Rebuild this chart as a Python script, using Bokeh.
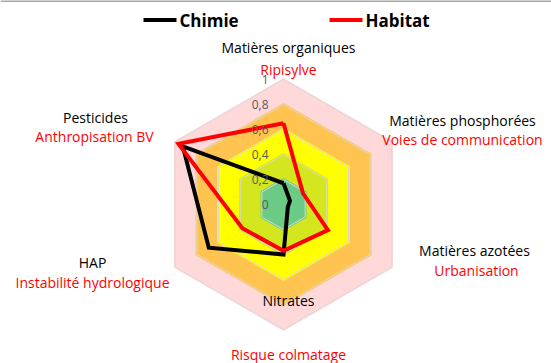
import numpy as np
from bokeh.plotting import figure
from bokeh.models import Range1d
from bokeh.embed import file_html
from bokeh.resources import INLINE
from bokeh.core.properties import value

# ---- data ----
chem_labels = ["Matières organiques", "Matières phosphorées", "Matières azotées",
               "Nitrates", "HAP", "Pesticides"]
hab_labels = ["Ripisylve", "Voies de communication", "Urbanisation",
              "Risque colmatage", "Instabilité hydrologique", "Anthropisation BV"]
chimie = [0.17, 0.06, 0.04, 0.40, 0.69, 0.93]
habitat = [0.65, 0.18, 0.41, 0.37, 0.38, 0.97]
tick_values = [0, 0.2, 0.4, 0.6, 0.8, 1.0]
tick_labels = ["0", "0,2", "0,4", "0,6", "0,8", "1"]
band_levels = [1.0, 0.8, 0.6, 0.4, 0.2]
band_colors = ["#FFD9D9", "#FFC44F", "#FFFF00", "#D4E61E", "#6BCB85"]
series_names = ["Chimie", "Habitat"]
series_colors = ["black", "#FF0000"]

# ---- geometry ----
W, H = 551, 363
CX, CY, R = 283, 204, 125.0   # image px of centre, px per unit


def px(xi, yi):
    return (xi - CX) / R, (CY - yi) / R


n = len(chem_labels)
ang = np.radians(90 - 60 * np.arange(n))


def ring(vals):
    v = np.asarray(vals, dtype=float)
    xs = list(v * np.cos(ang)) + [v[0] * np.cos(ang[0])]
    ys = list(v * np.sin(ang)) + [v[0] * np.sin(ang[0])]
    return xs, ys


x0, y1 = px(0, 0)
x1, y0 = px(W, H)
p = figure(width=W, height=H, output_backend="svg", toolbar_location=None,
           x_range=Range1d(x0, x1), y_range=Range1d(y0, y1),
           min_border=0, outline_line_color=None)
p.axis.visible = False
p.grid.visible = False

# top frame line
p.segment(x0=[x0], y0=[px(0, 0.5)[1]], x1=[x1], y1=[px(0, 0.5)[1]],
          line_color="#A6A6A6", line_width=2)

# bands
bx, by = [], []
for lv in band_levels:
    xs, ys = ring([lv + 0.012] * n)
    bx.append(xs)
    by.append(ys)
p.patches(bx, by, fill_color=band_colors, line_color=None)

# grid hexagons
gx, gy = [], []
for lv in tick_values[1:]:
    xs, ys = ring([lv] * n)
    gx.append(xs)
    gy.append(ys)
p.multi_line(gx, gy, line_color="#D9D9D9", line_width=1)

# series
for vals, col in zip([chimie, habitat], series_colors):
    xs, ys = ring(vals)
    p.line(xs, ys, line_color=col, line_width=4, line_join="miter")

# value tick labels
p.text(x=[-15 / R] * len(tick_values), y=tick_values, text=tick_labels,
       text_align="right", text_baseline="middle", text_color="#595959",
       text_font=value("Open Sans"), text_font_size="12px")

# category labels (image px positions)
lab_pos = [((288, 47), (288, 69)), ((462, 120), (462, 139)),
           ((474, 250), (476, 270)), ((288, 300), (288, 354)),
           ((92, 262), (92, 282)), ((95, 117), (94, 136))]
for i in range(n):
    (bxp, byp), (rxp, ryp) = lab_pos[i]
    a = px(bxp, byp)
    b = px(rxp, ryp)
    p.text(x=[a[0]], y=[a[1]], text=[chem_labels[i]], text_align="center",
           text_baseline="middle", text_color="black",
           text_font=value("Open Sans"), text_font_size="14px")
    p.text(x=[b[0]], y=[b[1]], text=[hab_labels[i]], text_align="center",
           text_baseline="middle", text_color="#FF0000",
           text_font=value("Open Sans"), text_font_size="14px")

# legend
leg = [((143, 176), 179), ((329, 362), 365)]
for k, ((l0, l1), tx) in enumerate(leg):
    a = px(l0, 19.5)
    b = px(l1, 19.5)
    p.segment(x0=[a[0]], y0=[a[1]], x1=[b[0]], y1=[b[1]],
              line_color=series_colors[k], line_width=4)
    t = px(tx, 20)
    p.text(x=[t[0]], y=[t[1]], text=[series_names[k]], text_align="left",
           text_baseline="middle", text_color="black", text_font_style="bold",
           text_font=value("Open Sans"), text_font_size="17px")

open("out.html", "w").write(file_html(p, INLINE))
